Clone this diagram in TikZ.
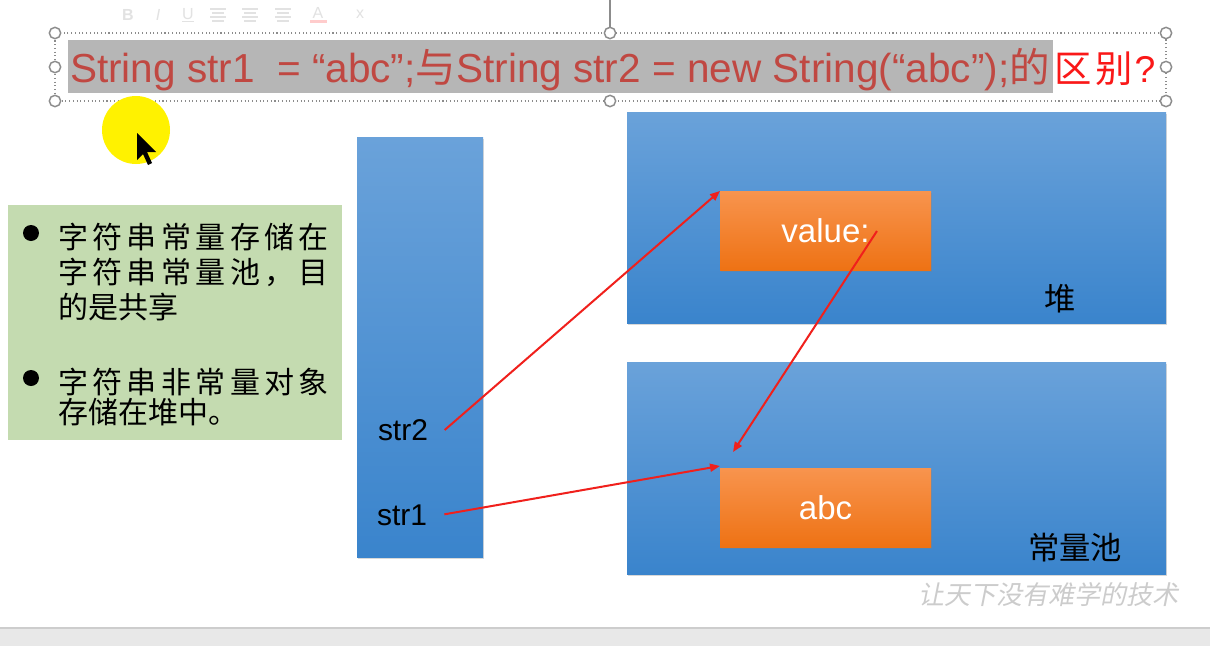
\documentclass[tikz,border=0pt]{standalone}
\usepackage{fontspec}
\setmainfont{Liberation Sans}
\newfontfamily\cjk{Noto Sans CJK SC}
\newfontfamily\cjkwide{Noto Sans CJK SC}[LetterSpace=14.7]
\newfontfamily\wmfont{Noto Sans CJK SC}[FakeSlant=0.2]
\usetikzlibrary{shadows,arrows.meta}

\definecolor{titlered}{RGB}{192,72,66}
\definecolor{brightred}{RGB}{250,24,24}
\definecolor{hlgrey}{RGB}{182,182,182}
\definecolor{notegreen}{RGB}{196,219,176}
\definecolor{bluetop}{RGB}{106,162,218}
\definecolor{bluebot}{RGB}{58,132,204}
\definecolor{orangetop}{RGB}{248,148,78}
\definecolor{orangebot}{RGB}{238,114,20}
\definecolor{linkred}{RGB}{240,32,28}
\definecolor{handlegrey}{RGB}{140,140,140}
\definecolor{faintgrey}{RGB}{226,226,226}
\definecolor{barfill}{RGB}{232,232,232}
\definecolor{barline}{RGB}{205,205,205}

\tikzset{
  plain/.style={inner sep=0pt, outer sep=0pt},
  membox/.style={plain, shading=axis, top color=bluetop, bottom color=bluebot,
    drop shadow={opacity=0.3, shadow xshift=0.8pt, shadow yshift=-1.2pt}},
  objbox/.style={plain, shading=axis, top color=orangetop, bottom color=orangebot,
    minimum width=158.25pt, minimum height=59.25pt,
    drop shadow={opacity=0.35, shadow xshift=0.8pt, shadow yshift=-1.2pt},
    text=white, font=\fontsize{24.75}{28}\selectfont},
  varlabel/.style={plain, font=\fontsize{22.5}{26}\selectfont},
  arealabel/.style={plain, font=\cjk\fontsize{23.5}{26}\selectfont},
  noteline/.style={plain, anchor=base west, font=\cjk\fontsize{22.5}{26}\selectfont},
  notewide/.style={noteline, font=\cjkwide\fontsize{22.5}{26}\selectfont},
  bulletdot/.style={circle, fill=black, minimum size=12pt, plain},
  handle/.style={circle, draw=handlegrey, line width=1.1pt, fill=white, minimum size=8.5pt, plain},
  link/.style={draw=linkred, line width=1.5pt, -{Triangle[length=7.5pt, width=6pt]}},
  tool/.style={plain, text=faintgrey, font=\fontsize{12}{14}\selectfont},
}

\begin{document}
\begin{tikzpicture}[x=0.75pt, y=-0.75pt]
  % page area
  \useasboundingbox (0,0) rectangle (1210,646);
  \fill[white] (0,0) rectangle (1210,646);

  % status bar at the foot of the window
  \fill[barfill] (0,628) rectangle (1210,646);
  \draw[barline, line width=0.8pt] (0,628) -- (1210,628);

  % faint formatting toolbar
  \node[tool, font=\bfseries\fontsize{12}{14}\selectfont] (tb) at (128,15) {B};
  \node[tool, font=\itshape\fontsize{12}{14}\selectfont] (ti) at (158,15) {I};
  \node[tool] (tu) at (188,15) {\underline{U}};
  \foreach \cx [count=\k] in {218,250,283} {
    \draw[faintgrey, line width=0.9pt] (\cx-8,9) -- (\cx+8,9) (\cx-6,13) -- (\cx+6,13)
      (\cx-8,17) -- (\cx+8,17) (\cx-6,21) -- (\cx+6,21);
  }
  \node[tool] (ta) at (318,13) {A};
  \fill[red!20] (310,20) rectangle (327,23);
  \node[tool] (tx) at (360,14) {x};

  % title selection frame with its handles
  \draw[handlegrey, line width=0.9pt] (610,0) -- (610,27);
  \draw[handlegrey, dotted, line width=0.8pt] (55,33) rectangle (1166,101);
  \node[plain, fill=hlgrey, anchor=north west, minimum width=738.75pt, minimum height=39.75pt]
    (hl) at (68,40) {};
  \node[plain, anchor=base west, text=titlered, font=\fontsize{30.4}{36}\selectfont] (t1) at (70,82)
    {String str1\ \ = “abc”;{\cjk 与}String str2 = new String(“abc”);{\cjk 的}};
  \node[plain, anchor=base west, text=brightred, font=\fontsize{28}{34}\selectfont] (t2)
    at ([xshift=3.5pt]t1.base east) {{\cjk 区\hspace{2.5pt}别}\hspace{1.5pt}?};
  \foreach \hx/\hy [count=\i] in {55/33,610/33,1166/33,55/67,1166/67,55/101,610/101,1166/101}
    \node[handle] (h\i) at (\hx,\hy) {};

  % pointer highlight and cursor
  \fill[yellow] (136,130) circle (34);
  \fill[black] (137,133) -- (137,160) -- (143,154) -- (148,165) -- (152,163) -- (147,152)
    -- (156,152) -- cycle;

  % notes
  \node[plain, fill=notegreen, minimum width=250.5pt, minimum height=176.25pt] (notes) at (175,322.5) {};
  \node[bulletdot] (d1) at (31,233) {};
  \node[bulletdot] (d2) at (31,378) {};
  \node[notewide] (n1) at (58,248) {字符串常量存储在};
  \node[notewide] (n2) at (58,283.5) {字符串常量池，目};
  \node[noteline] (n3) at (58,318) {的是共享};
  \node[notewide] (n4) at (58,393) {字符串非常量对象};
  \node[noteline] (n5) at (58,423.5) {存储在堆中。};

  % stack frame
  \node[membox, minimum width=94.5pt, minimum height=315pt] (stack) at (420,347) {};
  \node[varlabel] (str2) at (403,430) {str2};
  \node[varlabel] (str1) at (402,515) {str1};

  % heap and constant pool
  \node[membox, minimum width=404.25pt, minimum height=158.25pt] (heap) at (896.5,217.5) {};
  \node[membox, minimum width=404.25pt, minimum height=159pt] (pool) at (896.5,468) {};
  \node[arealabel] (heaplbl) at (1060,299) {堆};
  \node[arealabel] (poollbl) at (1075,548) {常量池};

  \node[objbox] (value) at (825.5,230.5) {value:};
  \node[objbox] (abc) at (825.5,507.5) {abc};

  % references
  \coordinate (s2out) at ([xshift=12.5pt]str2.east);
  \coordinate (s1out) at ([xshift=13pt, yshift=0.5pt]str1.east);
  \coordinate (vout) at ([xshift=38.6pt, yshift=-0.4pt]value.center);
  \draw[link] (s2out) -- (value.north west);
  \draw[link] (s1out) -- ([yshift=1.5pt]abc.north west);
  \draw[link] (vout) -- ([xshift=9.75pt, yshift=12pt]abc.north west);

  % watermark
  \node[plain, text=black!20, font=\wmfont\fontsize{19.5}{22}\selectfont] (mark) at (1048,595)
    {让天下没有难学的技术};
\end{tikzpicture}
\end{document}
